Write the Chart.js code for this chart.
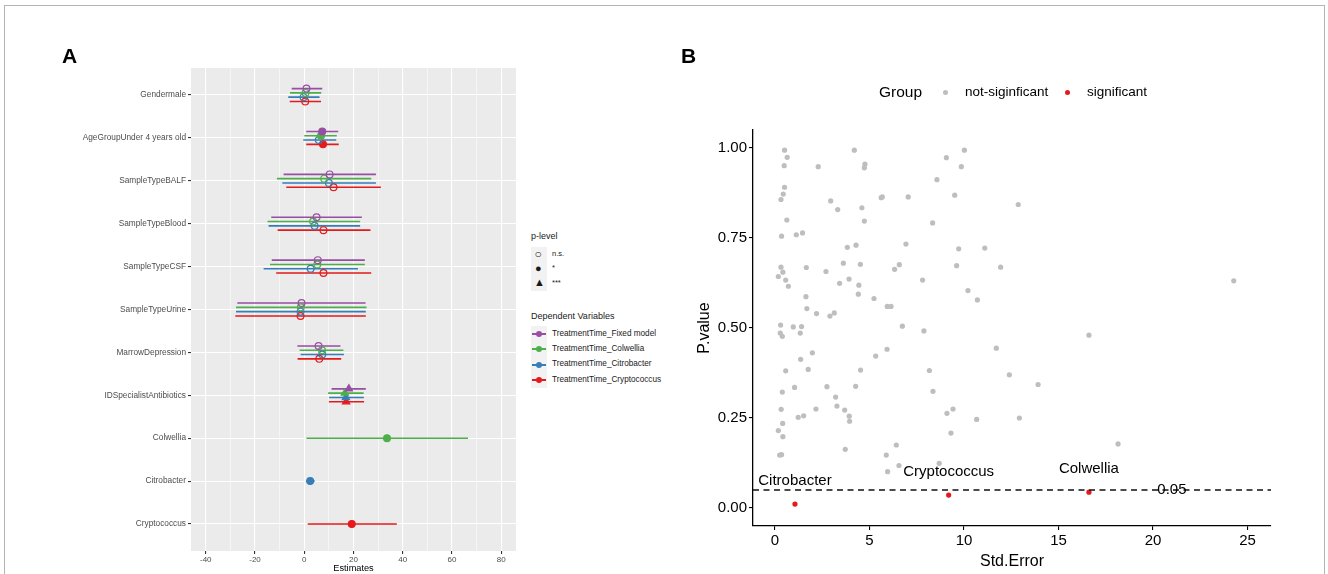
<!DOCTYPE html>
<html>
<head>
<meta charset="utf-8">
<script src="https://cdn.jsdelivr.net/npm/chart.js@4.4.1/dist/chart.umd.min.js"></script>
<style>
  html, body { margin: 0; padding: 0; background: #fff; }
  body { width: 1328px; height: 574px; position: relative; overflow: hidden; font-family: "Liberation Sans", Arial, sans-serif; }
  #frame { position: absolute; left: 4px; top: 5px; width: 1321px; height: 600px; border: 1px solid #b4b4b4; box-sizing: border-box; }
  .abs { position: absolute; white-space: nowrap; }
  #cA { position: absolute; left: 0; top: 0; }
  #cB { position: absolute; left: 680px; top: 0; }
  .panel { font-weight: bold; font-size: 21px; color: #000; }
  .legA { font-size: 8.4px; color: #1a1a1a; }
  .keybg { position: absolute; background: #f2f2f2; }
</style>
</head>
<body>
<div id="frame"></div>
<canvas id="cA" width="530" height="574"></canvas>
<canvas id="cB" width="648" height="574"></canvas>

<div class="abs panel" style="left:62px; top:44px;">A</div>
<div class="abs panel" style="left:681px; top:44px;">B</div>

<!-- Legend A -->
<div class="abs legA" style="left:531px; top:231px; font-size:9px;">p-level</div>
<div class="keybg" style="left:531px; top:247px; width:16px; height:44px;"></div>
<div class="abs legA" style="left:534.5px; top:246.5px; font-size:12px; line-height:14px;">○</div>
<div class="abs legA" style="left:535px; top:261px; font-size:11px; line-height:14px;">●</div>
<div class="abs legA" style="left:534px; top:275px; font-size:11px; line-height:14px;">▲</div>
<div class="abs legA" style="left:552px; top:249px; font-size:7.5px;">n.s.</div>
<div class="abs legA" style="left:552px; top:263px; font-size:7.5px;">*</div>
<div class="abs legA" style="left:552px; top:278px; font-size:7.5px;">***</div>

<div class="abs legA" style="left:531px; top:311px; font-size:9px;">Dependent Variables</div>
<div class="keybg" style="left:531px; top:326px; width:16px; height:62px;"></div>
<div id="legAitems"></div>

<!-- Legend B -->
<div class="abs" style="left:879px; top:83px; font-size:15.5px; color:#000;">Group</div>
<div class="abs" style="left:942.5px; top:89.5px; width:5px; height:5px; border-radius:50%; background:#bebebe;"></div>
<div class="abs" style="left:965px; top:84px; font-size:13.5px; color:#000;">not-siginficant</div>
<div class="abs" style="left:1064.5px; top:89.5px; width:5px; height:5px; border-radius:50%; background:#e41a1c;"></div>
<div class="abs" style="left:1087px; top:84px; font-size:13.5px; color:#000;">significant</div>

<script>
// ---------------- Panel A data ----------------
const categories = ['Gendermale','AgeGroupUnder 4 years old','SampleTypeBALF','SampleTypeBlood','SampleTypeCSF','SampleTypeUrine','MarrowDepression','IDSpecialistAntibiotics','Colwellia','Citrobacter','Cryptococcus'];
const seriesNames = ['TreatmentTime_Fixed model','TreatmentTime_Colwellia','TreatmentTime_Citrobacter','TreatmentTime_Cryptococcus'];
const seriesColors = ['#984EA3','#4DAF4A','#377EB8','#E41A1C'];

const fixedEst = [0.9, 7.3, 10.3, 5.0, 5.5, -1.1, 5.8, 18.1, null, null, null];
const fixedLo  = [-5.1, 0.8, -8.4, -13.4, -13.2, -27.2, -2.8, 11.1, null, null, null];
const fixedHi  = [7.3, 13.8, 29.1, 23.4, 24.6, 24.9, 14.7, 25.0, null, null, null];
const fixedSig = ['ns','*','ns','ns','ns','ns','ns','***', null, null, null];

const colwEst = [0.5, 6.8, 8.1, 3.6, 5.3, -1.4, 7.2, 16.5, 33.6, null, null];
const colwLo  = [-5.8, 0.0, -11.1, -14.9, -13.9, -27.7, -1.9, 9.7, 0.9, null, null];
const colwHi  = [6.9, 13.2, 27.2, 22.7, 24.6, 25.3, 15.9, 24.1, 66.5, null, null];
const colwSig = ['ns','*','ns','ns','ns','ns','ns','***','*', null, null];

const citrEst = [-0.3, 5.9, 10.0, 4.2, 2.6, -1.5, 7.3, 16.9, null, 2.4, null];
const citrLo  = [-6.5, -0.4, -8.9, -14.5, -16.5, -27.7, -1.5, 10.1, null, 0.7, null];
const citrHi  = [6.2, 13.0, 29.1, 22.7, 21.8, 25.0, 16.1, 24.2, null, 4.2, null];
const citrSig = ['ns','ns','ns','ns','ns','ns','ns','***', null, '*', null];

const cryoEst = [0.4, 7.6, 11.9, 7.8, 7.8, -1.5, 6.1, 17.0, null, null, 19.3];
const cryoLo  = [-5.9, 0.8, -7.3, -10.8, -11.4, -28.0, -2.7, 10.0, null, null, 1.4];
const cryoHi  = [6.8, 14.0, 31.1, 26.9, 27.2, 25.0, 15.0, 24.3, null, null, 37.6];
const cryoSig = ['ns','*','ns','ns','ns','ns','ns','***', null, null, '*'];

const estimateTicks = [-40, -20, 0, 20, 40, 60, 80];

// ---------------- Panel B data ----------------
const stdErrNS = [0.51,0.65,0.49,2.29,4.20,4.76,4.73,0.51,0.44,0.32,2.95,3.32,4.60,0.63,4.73,0.35,1.13,1.46,3.83,4.29,
  0.32,0.42,0.18,0.57,0.71,1.66,2.70,3.62,4.52,3.42,3.92,4.44,4.41,5.24,1.64,1.69,2.20,2.91,3.14,0.30,
  0.28,0.39,0.97,1.41,1.34,1.98,1.36,0.57,1.76,5.33,4.53,0.39,1.04,2.75,4.27,3.21,0.33,1.23,1.52,2.17,
  3.28,3.69,3.93,3.95,0.41,0.18,0.42,3.72,0.25,0.35,10.02,9.07,9.86,8.57,5.62,5.68,7.05,9.51,8.34,6.93,
  9.72,11.10,11.94,6.33,6.58,9.61,7.81,10.21,10.71,5.94,6.14,6.74,7.88,5.93,11.71,8.17,8.36,9.10,9.42,10.67,
  9.31,6.42,5.89,6.56,5.96,8.69,12.87,16.61,12.40,13.92,12.93,18.15,24.27];
const pValueNS = [0.994,0.974,0.951,0.948,0.994,0.955,0.945,0.891,0.872,0.857,0.853,0.829,0.834,0.800,0.797,0.755,0.759,0.764,0.724,0.730,
  0.669,0.655,0.643,0.633,0.616,0.668,0.657,0.680,0.677,0.624,0.636,0.619,0.594,0.582,0.587,0.554,0.540,0.533,0.542,0.508,
  0.486,0.477,0.503,0.504,0.486,0.431,0.413,0.381,0.385,0.422,0.383,0.322,0.335,0.337,0.338,0.308,0.274,0.252,0.256,0.275,
  0.283,0.272,0.255,0.241,0.235,0.215,0.198,0.163,0.147,0.148,0.994,0.973,0.948,0.912,0.862,0.864,0.864,0.869,0.792,0.733,
  0.720,0.722,0.669,0.663,0.676,0.673,0.633,0.604,0.578,0.560,0.560,0.505,0.492,0.441,0.444,0.382,0.324,0.263,0.275,0.246,
  0.208,0.175,0.147,0.118,0.101,0.124,0.843,0.480,0.370,0.343,0.250,0.178,0.631];
const sigLabels = ['Citrobacter','Cryptococcus','Colwellia'];
const stdErrSig = [1.06, 9.19, 16.61];
const pValueSig = [0.011, 0.036, 0.044];
const pThreshold = 0.05;
const stdErrTicks = [0, 5, 10, 15, 20, 25];
const pValueTicks = [0, 0.25, 0.5, 0.75, 1.0];

// ---------------- Build panel A ----------------
const seriesEst = [fixedEst, colwEst, citrEst, cryoEst];
const seriesLo = [fixedLo, colwLo, citrLo, cryoLo];
const seriesHi = [fixedHi, colwHi, citrHi, cryoHi];
const seriesSig = [fixedSig, colwSig, citrSig, cryoSig];
const dodgeWidth = 0.4;
const nSeries = seriesEst.length;

function rowPos(s, i) {
  const present = seriesEst.map(a => a[i] !== null);
  const n = present.filter(Boolean).length;
  let k = 0;
  for (let j = 0; j < s; j++) if (present[j]) k++;
  const slot = dodgeWidth / nSeries;
  return i + (k - (n - 1) / 2) * slot;
}

const dsA = [];
for (let s = 0; s < nSeries; s++) {
  const seg = [];
  categories.forEach((c, i) => {
    if (seriesEst[s][i] === null) return;
    const y = rowPos(s, i);
    seg.push({ x: seriesLo[s][i], y: y });
    seg.push({ x: seriesHi[s][i], y: y });
    seg.push({ x: null, y: null });
  });
  dsA.push({ type: 'line', data: seg, borderColor: seriesColors[s], borderWidth: 1.6, pointRadius: 0, pointHoverRadius: 0, spanGaps: false, fill: false, order: 2 });
}
for (let s = 0; s < nSeries; s++) {
  const pts = [], styles = [], fills = [], radii = [];
  categories.forEach((c, i) => {
    if (seriesEst[s][i] === null) return;
    pts.push({ x: seriesEst[s][i], y: rowPos(s, i) });
    const sig = seriesSig[s][i];
    styles.push(sig === '***' ? 'triangle' : 'circle');
    fills.push(sig === 'ns' ? 'rgba(0,0,0,0)' : seriesColors[s]);
    radii.push(sig === '***' ? 4.2 : 3.4);
  });
  dsA.push({ type: 'scatter', data: pts, pointStyle: styles, backgroundColor: fills, borderColor: seriesColors[s], pointBorderWidth: 1.2, pointRadius: radii, pointHoverRadius: radii, showLine: false, order: 1 });
}

const panelBg = {
  id: 'panelBg',
  beforeDraw(chart) {
    const a = chart.chartArea, ctx = chart.ctx;
    ctx.save(); ctx.fillStyle = '#EBEBEB';
    ctx.fillRect(a.left, a.top, a.right - a.left, a.bottom - a.top);
    ctx.restore();
  }
};

new Chart(document.getElementById('cA'), {
  data: { datasets: dsA },
  plugins: [panelBg],
  options: {
    responsive: false, animation: false,
    layout: { padding: { top: 68, right: 14, bottom: 0, left: 0 } },
    plugins: { legend: { display: false }, tooltip: { enabled: false } },
    scales: {
      x: {
        type: 'linear', min: -46, max: 86,
        afterBuildTicks(sc) { const t = []; for (let v = -40; v <= 80; v += 10) t.push({ value: v }); sc.ticks = t; },
        afterFit(sc) { sc.height = 23; },
        grid: {
          color: '#FFFFFF',
          lineWidth: c => (estimateTicks.includes(c.tick.value) ? 1.1 : 0.55),
          tickColor: c => (estimateTicks.includes(c.tick.value) ? '#333333' : 'rgba(0,0,0,0)'),
          tickLength: 3, drawTicks: true
        },
        border: { display: false },
        ticks: {
          autoSkip: false, maxRotation: 0, padding: 1, color: '#4D4D4D',
          font: { family: 'Liberation Sans', size: 8 },
          callback: v => (estimateTicks.includes(v) ? String(v) : '')
        },
        title: { display: true, text: 'Estimates', color: '#000', padding: { top: 0, bottom: 0 }, font: { family: 'Liberation Sans', size: 9.2 } }
      },
      y: {
        type: 'linear', reverse: true, min: -0.63, max: categories.length - 1 + 0.63,
        afterBuildTicks(sc) { sc.ticks = categories.map((c, i) => ({ value: i })); },
        afterFit(sc) { sc.width = 191; },
        grid: { color: '#FFFFFF', lineWidth: 1.1, tickColor: '#333333', tickLength: 3 },
        border: { display: false },
        ticks: { autoSkip: false, padding: 2, color: '#4D4D4D', font: { family: 'Liberation Sans', size: 8.3 }, callback: v => categories[v] }
      }
    }
  }
});

// legend A items (dependent variables)
(function () {
  const host = document.getElementById('legAitems');
  const ys = [334, 349, 364.5, 380];
  seriesNames.forEach((n, i) => {
    const line = document.createElement('div');
    line.className = 'abs';
    line.style.cssText = `left:532px; top:${ys[i] - 1}px; width:14px; height:2px; background:${seriesColors[i]};`;
    host.appendChild(line);
    const dot = document.createElement('div');
    dot.className = 'abs';
    dot.style.cssText = `left:536px; top:${ys[i] - 3}px; width:6px; height:6px; border-radius:50%; background:${seriesColors[i]};`;
    host.appendChild(dot);
    const t = document.createElement('div');
    t.className = 'abs legA';
    t.style.cssText = `left:552px; top:${ys[i] - 5.5}px; font-size:8.2px;`;
    t.textContent = n;
    host.appendChild(t);
  });
})();

// ---------------- Build panel B ----------------
const annotB = {
  id: 'annotB',
  afterDatasetsDraw(chart) {
    const ctx = chart.ctx, xs = chart.scales.x, ys = chart.scales.y, a = chart.chartArea;
    const yp = ys.getPixelForValue(pThreshold);
    ctx.save();
    ctx.strokeStyle = '#111'; ctx.lineWidth = 1.3; ctx.setLineDash([6, 4.5]);
    ctx.beginPath(); ctx.moveTo(a.left, yp); ctx.lineTo(a.right, yp); ctx.stroke();
    ctx.setLineDash([]);
    ctx.fillStyle = '#000'; ctx.textAlign = 'center'; ctx.textBaseline = 'middle';
    ctx.font = '15px "Liberation Sans"';
    ctx.fillText(String(pThreshold), xs.getPixelForValue(21), yp);
    sigLabels.forEach((l, i) => {
      ctx.fillText(l, xs.getPixelForValue(stdErrSig[i]), ys.getPixelForValue(pValueSig[i]) - 23);
    });
    ctx.restore();
  }
};

new Chart(document.getElementById('cB'), {
  type: 'scatter',
  data: {
    datasets: [
      { label: 'not-siginficant', data: stdErrNS.map((x, i) => ({ x: x, y: pValueNS[i] })), backgroundColor: '#BEBEBE', borderWidth: 0, pointRadius: 2.6, pointHoverRadius: 2.6 },
      { label: 'significant', data: stdErrSig.map((x, i) => ({ x: x, y: pValueSig[i] })), backgroundColor: '#E41A1C', borderWidth: 0, pointRadius: 2.6, pointHoverRadius: 2.6 }
    ]
  },
  plugins: [annotB],
  options: {
    responsive: false, animation: false,
    layout: { padding: { top: 130, right: 57, bottom: 0, left: 0 } },
    plugins: { legend: { display: false }, tooltip: { enabled: false } },
    scales: {
      x: {
        type: 'linear', min: -1.16, max: 26.24,
        afterBuildTicks(sc) { sc.ticks = stdErrTicks.map(v => ({ value: v })); },
        afterFit(sc) { sc.height = 48; },
        grid: { drawOnChartArea: false, tickColor: '#000', tickLength: 4, lineWidth: 1.1 },
        border: { display: true, color: '#000', width: 1.3 },
        ticks: { autoSkip: false, maxRotation: 0, padding: 2, color: '#000', font: { family: 'Liberation Sans', size: 15 } },
        title: { display: true, text: 'Std.Error', color: '#000', padding: { top: 0, bottom: 3 }, font: { family: 'Liberation Sans', size: 16 } }
      },
      y: {
        type: 'linear', min: -0.05, max: 1.05,
        afterBuildTicks(sc) { sc.ticks = pValueTicks.map(v => ({ value: v })); },
        afterFit(sc) { sc.width = 73; },
        grid: { drawOnChartArea: false, tickColor: '#000', tickLength: 4, lineWidth: 1.1 },
        border: { display: true, color: '#000', width: 1.3 },
        ticks: { autoSkip: false, padding: 2, color: '#000', font: { family: 'Liberation Sans', size: 15 }, callback: v => Number(v).toFixed(2) },
        title: { display: true, text: 'P.value', color: '#000', padding: { top: 15, bottom: 0 }, font: { family: 'Liberation Sans', size: 16 } }
      }
    }
  }
});
</script>
</body>
</html>
